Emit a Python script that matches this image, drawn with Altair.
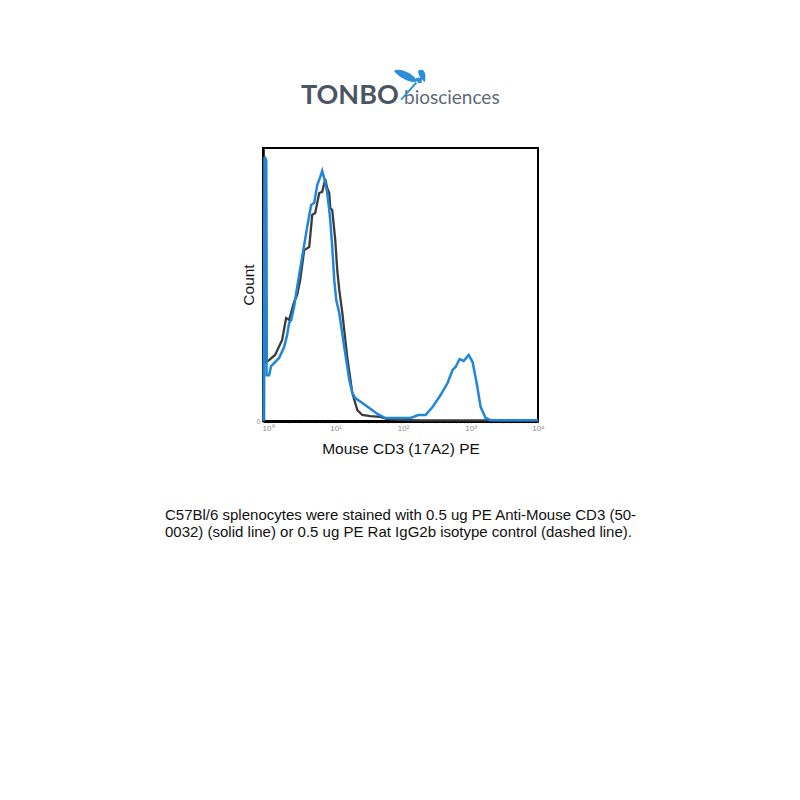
import altair as alt
import pandas as pd

# ---- data (PE fluorescence intensity, relative count 0-100) ----
cd3_intensity = [0.857, 0.887, 0.933, 0.95, 1.035, 1.108, 1.228, 1.457, 1.729, 1.915, 2.05, 2.20,
                 2.43, 2.70, 2.89, 3.20, 3.80, 4.35, 4.83, 5.35, 5.93, 6.34, 7.03, 7.53, 8.06,
                 8.34, 8.93, 9.57, 10.24, 11.35, 13.46, 15.99, 17.7, 19.6, 24.9, 31.7, 41.7, 54.8,
                 128.8, 169.4, 215.3, 273.5, 359.5, 457, 542, 601, 689, 791, 938, 1074, 1233,
                 1413, 1675, 1990, 10000]
cd3_count = [0, 96.7, 95.6, 16.8, 16.8, 20.1, 21.2, 23.1, 27.1, 31.5, 35.9, 37.0,
             41.8, 49.1, 53.5, 60.1, 71.1, 79.1, 79.9, 86.4, 89.4, 91.6, 87.5, 83.5, 77.3,
             73.6, 63.7, 51.6, 44.3, 39.6, 27.1, 15.0, 10.3, 8.4, 6.6, 4.8, 2.6, 1.1,
             1.1, 2.2, 2.2, 5.1, 9.5, 13.9, 18.7, 19.8, 22.7, 22.0, 24.2, 21.6, 13.9,
             5.1, 1.1, 0.3, 0.3]

iso_intensity = [0.872, 0.887, 0.933, 0.95, 1.035, 1.27, 1.615, 1.85, 2.05, 2.43, 2.70, 2.99,
                 3.43, 4.07, 4.51, 4.99, 5.73, 6.34, 7.03, 7.53, 8.06, 8.34, 8.93, 9.90,
                 10.6, 11.35, 12.6, 14.9, 17.7, 21.0, 24.9, 32.8, 46.1, 58.6, 82.6, 181, 10000]
iso_count = [0, 96.7, 95.6, 21.6, 22.3, 24.2, 29.7, 37.7, 37.0, 43.6, 46.2, 51.6,
             62.6, 63.7, 75.5, 76.2, 83.5, 83.9, 88.6, 85.3, 83.5, 78.0, 77.3, 66.3,
             55.3, 48.0, 39.6, 23.4, 10.3, 4.0, 2.2, 1.8, 1.5, 0.7, 0.4, 0.2, 0.2]

tick_values = [1, 2, 3, 4, 5, 6, 7, 8, 9,
               10, 20, 30, 40, 50, 60, 70, 80, 90,
               100, 200, 300, 400, 500, 600, 700, 800, 900,
               1000, 2000, 3000, 4000, 5000, 6000, 7000, 8000, 9000, 10000]

x_title = "Mouse CD3 (17A2) PE"
y_title = "Count"
logo_main = "TONBO"
logo_sub = "biosciences"
caption_lines = [
    "C57Bl/6 splenocytes were stained with 0.5 ug PE Anti-Mouse CD3 (50-",
    "0032) (solid line) or 0.5 ug PE Rat IgG2b isotype control (dashed line).",
]

BLUE = "#1f86dc"
DARK = "#3b3b3b"
FONT = "Liberation Sans"

# plot area position on the page
L, T, W, H = 263, 148, 275, 273

iso_df = pd.DataFrame({"intensity": iso_intensity, "count": iso_count})
cd3_df = pd.DataFrame({"intensity": cd3_intensity, "count": cd3_count})

label_expr = ("datum.value == 1 ? '10⁰' : datum.value == 10 ? '10¹' : "
              "datum.value == 100 ? '10²' : datum.value == 1000 ? '10³' : "
              "datum.value == 10000 ? '10⁴' : ''")

xenc = alt.X("intensity:Q",
             scale=alt.Scale(type="log", domain=[0.841, 10000], nice=False),
             axis=alt.Axis(values=tick_values, labelExpr=label_expr, labelFontSize=8,
                           labelColor="#8a8a8a", labelFont=FONT, tickSize=2, tickColor="#9a9a9a",
                           tickWidth=0.8, labelPadding=1, domainColor="black", domainWidth=3,
                           grid=False, title=x_title, titleFont=FONT, titleFontSize=15.5,
                           titleFontWeight="normal", titleColor="#111", titlePadding=9,
                           labelFlush=False))
yenc = alt.Y("count:Q", scale=alt.Scale(domain=[0, 100], nice=False),
             axis=alt.Axis(values=[0], labelFontSize=7, labelColor="#8a8a8a", labelFont=FONT,
                           ticks=False, labelPadding=3, domainColor="black", domainWidth=2.5,
                           grid=False, title=y_title, titleFont=FONT, titleFontSize=15.5,
                           titleFontWeight="normal", titleColor="#111", titlePadding=0))

iso_line = alt.Chart(iso_df).mark_line(color=DARK, strokeWidth=2.3).encode(x=xenc, y=yenc)
cd3_line = alt.Chart(cd3_df).mark_line(color=BLUE, strokeWidth=2.5).encode(x="intensity:Q", y="count:Q")


def text_layer(txt, px, py, **kw):
    return alt.Chart(pd.DataFrame({"t": [txt]})).mark_text(**kw).encode(
        text="t:N", x=alt.value(px - L), y=alt.value(py - T))


logo1 = text_layer(logo_main, 301, 104, font="Lato", fontSize=27, fontWeight="bold",
                   color="#4a5562", align="left", baseline="alphabetic")
logo2 = text_layer(logo_sub, 404, 104, font="Lato", fontSize=19, fontWeight="normal",
                   color="#5f6a75", align="left", baseline="alphabetic")

dragonfly_path = ("M -1 -0.75 C -0.6 -1.0 0.25 -0.55 0.45 -0.12 C 0.15 0.1 -0.65 -0.3 -1 -0.75 Z "
                  "M 0.5 -0.75 C 0.8 -0.95 1.05 -0.7 0.92 -0.05 C 0.7 -0.2 0.5 -0.45 0.5 -0.75 Z "
                  "M -0.6 1.0 L -0.5 1.05 L 0.5 -0.05 L 0.4 -0.12 Z "
                  "M 0.38 -0.32 L 0.72 -0.32 L 0.72 -0.0 L 0.38 -0.0 Z")
dragonfly = alt.Chart(pd.DataFrame({"k": [0]})).mark_point(
    shape=dragonfly_path, filled=True, color="#2a8fd6", opacity=1, size=1050, strokeWidth=0
).encode(x=alt.value(410 - L), y=alt.value(83 - T))

cap1 = text_layer(caption_lines[0], 165, 520, font=FONT, fontSize=15, color="#111",
                  align="left", baseline="alphabetic")
cap2 = text_layer(caption_lines[1], 165, 537, font=FONT, fontSize=15, color="#111",
                  align="left", baseline="alphabetic")

chart = alt.layer(iso_line, cd3_line, logo1, logo2, dragonfly, cap1, cap2).properties(
    width=W, height=H,
    autosize=alt.AutoSizeParams(type="none"),
    padding={"left": L, "top": T, "right": 800 - L - W, "bottom": 800 - T - H},
    background="white",
).configure_view(stroke="black", strokeWidth=2)

chart.save("out.html", embed_options={"renderer": "svg", "actions": False})
